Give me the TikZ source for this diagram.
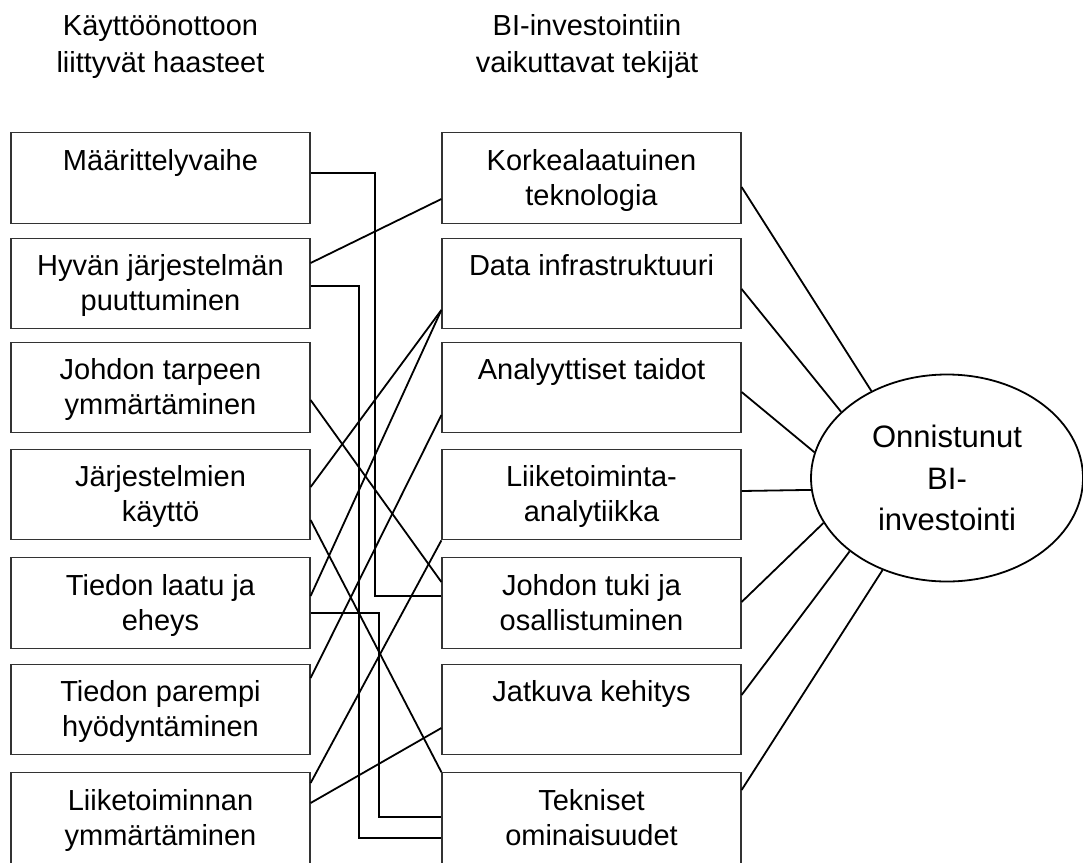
\documentclass[tikz,border=0pt]{standalone}
\usepackage{fontspec}
\setmainfont{Liberation Sans}
\usetikzlibrary{shapes.geometric}
% struts that fix the baselines of the two text lines in each box
\newcommand\topstrut{\rule{0pt}{27pt}}
\newcommand\botstrut{\rule[-8pt]{0pt}{8pt}}

\begin{document}
\begin{tikzpicture}[x=1pt,y=-1pt,
  box/.style={draw=black!80, line width=1.2pt, minimum width=299pt,
    minimum height=90.5pt, inner sep=0pt, align=center,
    font=\fontsize{29}{35}\selectfont},
  title/.style={align=center, inner sep=0pt, font=\fontsize{29}{37}\selectfont},
  goal/.style={draw, ellipse, line width=1.8pt, minimum width=272pt,
    minimum height=207pt, inner sep=0pt, align=center,
    font=\fontsize{31}{41.5}\selectfont},
  link/.style={line width=1.8pt}]

\clip (0,0) rectangle (1083,862);

% column headings
\node[title] (h1) at (160.5,44) {\topstrut Käyttöönottoon\\liittyvät haasteet\botstrut};
\node[title] (h2) at (587,44) {\topstrut BI-investointiin\\vaikuttavat tekijät\botstrut};

% challenges
\node[box] (L1) at (160.5,178)   {\topstrut Määrittelyvaihe\\\botstrut};
\node[box] (L2) at (160.5,283.5) {\topstrut Hyvän järjestelmän\\puuttuminen\botstrut};
\node[box] (L3) at (160.5,387.5) {\topstrut Johdon tarpeen\\ymmärtäminen\botstrut};
\node[box] (L4) at (160.5,494.5) {\topstrut Järjestelmien\\käyttö\botstrut};
\node[box] (L5) at (160.5,603)   {\topstrut Tiedon laatu ja\\eheys\botstrut};
\node[box] (L6) at (160.5,709.5) {\topstrut Tiedon parempi\\hyödyntäminen\botstrut};
\node[box] (L7) at (160.5,818)   {\topstrut Liiketoiminnan\\ymmärtäminen\botstrut};

% factors
\node[box] (R1) at (591.5,178)   {\topstrut Korkealaatuinen\\teknologia\botstrut};
\node[box] (R2) at (591.5,283.5) {\topstrut Data infrastruktuuri\\\botstrut};
\node[box] (R3) at (591.5,387.5) {\topstrut Analyyttiset taidot\\\botstrut};
\node[box] (R4) at (591.5,494.5) {\topstrut Liiketoiminta-\\analytiikka\botstrut};
\node[box] (R5) at (591.5,603)   {\topstrut Johdon tuki ja\\osallistuminen\botstrut};
\node[box] (R6) at (591.5,709.5) {\topstrut Jatkuva kehitys\\\botstrut};
\node[box] (R7) at (591.5,818)   {\topstrut Tekniset\\ominaisuudet\botstrut};

% outcome
\node[goal] (E) at (947,478) {Onnistunut\\BI-\\investointi};

% elbow connectors
\draw[link] ([yshift=5pt]L1.east) -- ++(64,0) |- ([yshift=7pt]R5.west);
\draw[link] ([yshift=-2.5pt]L2.east) -- ++(48,0) |- ([yshift=-20pt]R7.west);
\draw[link] ([yshift=-10pt]L5.east) -- ++(68,0) |- ([yshift=1pt]R7.west);

% straight connectors between the columns
\draw[link] ([yshift=20.5pt]L2.east) -- ([yshift=-21pt]R1.west);
\draw[link] ([yshift=-12.5pt]L3.east) -- ([yshift=21pt]R5.west);
\draw[link] ([yshift=7.5pt]L4.east) -- ([yshift=-26.5pt]R2.west);
\draw[link] ([yshift=-25.5pt]L4.east) -- (R7.north west);
\draw[link] ([yshift=7pt]L5.east) -- ([yshift=-26.5pt]R2.west);
\draw[link] ([yshift=31.5pt]L6.east) -- ([yshift=-27.5pt]R3.west);
\draw[link] ([yshift=35pt]L7.east) -- (R4.south west);
\draw[link] ([yshift=15pt]L7.east) -- ([yshift=-18.5pt]R6.west);

% factors to outcome
\draw[link] ([yshift=-9pt]R1.east) -- (E.131.1);
\draw[link] ([yshift=-5.5pt]R2.east) -- (E.148.2);
\draw[link] ([yshift=-4.5pt]R3.east) -- (E.169.2);
\draw[link] ([yshift=3.5pt]R4.east) -- (E.185.5);
\draw[link] ([yshift=1pt]R5.east) -- (E.200.2);
\draw[link] ([yshift=14.5pt]R6.east) -- (E.217.9);
\draw[link] ([yshift=28pt]R7.east) -- (E.235.6);
\end{tikzpicture}
\end{document}
